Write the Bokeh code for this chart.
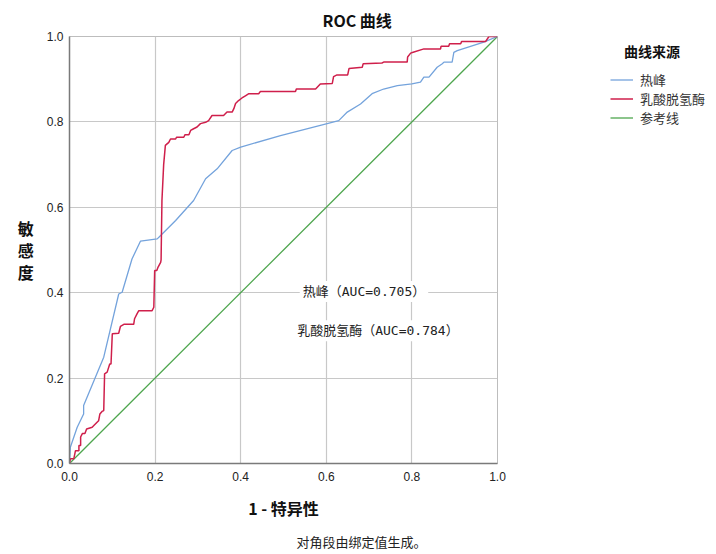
from bokeh.plotting import figure
from bokeh.models import (Label, Legend, LegendItem, FixedTicker, Range1d, Title,
                          PrintfTickFormatter)
from bokeh.embed import file_html
from bokeh.resources import INLINE

# ---- data ----
ticks = [0.0, 0.2, 0.4, 0.6, 0.8, 1.0]

fever_fpr = [0.0, 0.002, 0.018, 0.033, 0.033, 0.080, 0.115, 0.123, 0.146, 0.166, 0.205, 0.213,
             0.248, 0.290, 0.318, 0.345, 0.380, 0.400, 0.493, 0.602, 0.629, 0.649, 0.680, 0.707,
             0.734, 0.766, 0.800, 0.820, 0.828, 0.840, 0.859, 0.871, 0.875, 0.894, 0.898, 0.906,
             0.968, 1.0]
fever_tpr = [0.0, 0.038, 0.085, 0.116, 0.136, 0.249, 0.397, 0.401, 0.479, 0.521, 0.526, 0.534,
             0.569, 0.616, 0.667, 0.690, 0.733, 0.741, 0.768, 0.796, 0.803, 0.823, 0.842, 0.866,
             0.877, 0.885, 0.889, 0.893, 0.905, 0.905, 0.928, 0.936, 0.940, 0.940, 0.963, 0.967,
             0.987, 1.0]

ldh_fpr = [0.0, 0.002, 0.010, 0.014, 0.022, 0.022, 0.026, 0.026, 0.030, 0.036, 0.040, 0.053,
           0.058, 0.065, 0.068, 0.071, 0.076, 0.080, 0.082, 0.088, 0.094, 0.097, 0.100, 0.115,
           0.119, 0.127, 0.150, 0.152, 0.158, 0.162, 0.193, 0.197, 0.199, 0.204, 0.207, 0.213,
           0.214, 0.216, 0.220, 0.224, 0.232, 0.236, 0.248, 0.250, 0.267, 0.270, 0.279, 0.283,
           0.290, 0.298, 0.306, 0.318, 0.325, 0.333, 0.360, 0.368, 0.380, 0.384, 0.388, 0.395,
           0.403, 0.411, 0.419, 0.442, 0.446, 0.528, 0.530, 0.575, 0.586, 0.614, 0.617, 0.625,
           0.650, 0.653, 0.684, 0.686, 0.730, 0.734, 0.789, 0.790, 0.797, 0.803, 0.828, 0.867,
           0.868, 0.886, 0.888, 0.914, 0.916, 0.972, 0.980, 1.0]
ldh_tpr = [0.0, 0.011, 0.011, 0.030, 0.030, 0.042, 0.042, 0.062, 0.070, 0.070, 0.081, 0.085,
           0.090, 0.097, 0.100, 0.116, 0.122, 0.124, 0.210, 0.214, 0.233, 0.233, 0.304, 0.305,
           0.321, 0.326, 0.326, 0.339, 0.351, 0.358, 0.358, 0.366, 0.452, 0.452, 0.460, 0.471,
           0.477, 0.616, 0.700, 0.745, 0.752, 0.760, 0.760, 0.764, 0.764, 0.770, 0.770, 0.780,
           0.784, 0.788, 0.796, 0.799, 0.803, 0.815, 0.815, 0.823, 0.823, 0.831, 0.843, 0.850,
           0.856, 0.861, 0.866, 0.866, 0.871, 0.871, 0.877, 0.877, 0.889, 0.890, 0.906, 0.910,
           0.910, 0.925, 0.928, 0.936, 0.938, 0.940, 0.940, 0.952, 0.961, 0.963, 0.971, 0.971,
           0.977, 0.977, 0.983, 0.983, 0.988, 0.988, 1.0, 1.0]

ref_x = [0.0, 1.0]
ref_y = [0.0, 1.0]

series_names = ["热峰", "乳酸脱氢酶", "参考线"]
auc_texts = ["热峰（AUC=0.705）", "乳酸脱氢酶（AUC=0.784）"]

CJK = "Noto Sans CJK SC"
MONO = "DejaVu Sans Mono, Noto Sans CJK SC"

# ---- figure ----
p = figure(frame_width=428, frame_height=427, output_backend="svg", toolbar_location=None,
           x_range=Range1d(0, 1), y_range=Range1d(0, 1),
           min_border_left=69, min_border_top=36, min_border_right=219, min_border_bottom=91)
p.outline_line_color = "#bdbdbd"
p.background_fill_color = "white"

for ax in (p.xaxis[0], p.yaxis[0]):
    ax.ticker = FixedTicker(ticks=ticks)
    ax.formatter = PrintfTickFormatter(format="%.1f")
    ax.major_tick_out = 0
    ax.major_tick_in = 0
    ax.minor_tick_out = 0
    ax.minor_tick_in = 0
    ax.axis_line_color = "#7a7a7a"
    ax.axis_line_width = 1.5
    ax.major_label_text_font = "Liberation Sans"
    ax.major_label_text_font_size = "12px"
    ax.major_label_text_color = "#222222"

p.xaxis[0].major_label_standoff = 8
p.yaxis[0].major_label_standoff = 6
p.xaxis[0].axis_label = "1 - 特异性"
p.xaxis[0].axis_label_text_font = CJK
p.xaxis[0].axis_label_text_font_size = "16px"
p.xaxis[0].axis_label_text_font_style = "bold"
p.xaxis[0].axis_label_text_color = "#111111"
p.xaxis[0].axis_label_standoff = 12

p.yaxis[0].axis_label = "敏\n感\n度"
p.yaxis[0].axis_label_orientation = "horizontal"
p.yaxis[0].axis_label_text_font = CJK
p.yaxis[0].axis_label_text_font_size = "16px"
p.yaxis[0].axis_label_text_font_style = "bold"
p.yaxis[0].axis_label_text_color = "#111111"
p.yaxis[0].axis_label_text_line_height = 0.9
p.yaxis[0].axis_label_standoff = 10

p.grid.grid_line_color = "#c8c8c8"
p.grid.grid_line_width = 1.2
p.xgrid.ticker = FixedTicker(ticks=ticks)
p.ygrid.ticker = FixedTicker(ticks=ticks)

r_ref = p.line(ref_x, ref_y, line_color="#4ea64e", line_width=1.3)
r_fever = p.line(fever_fpr, fever_tpr, line_color="#74a3dc", line_width=1.3)
r_ldh = p.line(ldh_fpr, ldh_tpr, line_color="#cf1f4b", line_width=1.5)

# AUC annotations
p.add_layout(Label(x=0.538, y=0.403, text=auc_texts[0], text_font=MONO,
                   text_font_size="13px", text_color="#222222", text_baseline="middle",
                   background_fill_color="white", padding=3))
p.add_layout(Label(x=0.525, y=0.311, text=auc_texts[1], text_font=MONO,
                   text_font_size="13px", text_color="#222222", text_baseline="middle",
                   background_fill_color="white", padding=3))

# Title
title = Title(text="ROC 曲线", align="left", offset=253, text_font=CJK,
              text_font_size="16px", text_font_style="bold", text_color="#111111", standoff=10)
p.add_layout(title, "above")

# Footnote
foot = Title(text="对角段由绑定值生成。", align="left", offset=227, text_font=CJK,
             text_font_size="13px", text_font_style="normal", text_color="#222222", standoff=14)
p.add_layout(foot, "below")

legend = Legend(items=[LegendItem(label=series_names[0], renderers=[r_fever]),
                       LegendItem(label=series_names[1], renderers=[r_ldh]),
                       LegendItem(label=series_names[2], renderers=[r_ref])],
                location=(113, 336), padding=0, margin=0, spacing=0,
                title="\u3000曲线来源", title_text_font=CJK, title_text_font_size="14px",
                title_text_font_style="bold", title_text_color="#111111", title_standoff=9,
                glyph_width=23, glyph_height=17, label_height=17, label_standoff=7,
                label_text_font=CJK, label_text_font_size="13px",
                label_text_color="#333333", border_line_color=None,
                background_fill_alpha=0)
p.add_layout(legend, "right")

open("out.html", "w").write(file_html(p, INLINE))
